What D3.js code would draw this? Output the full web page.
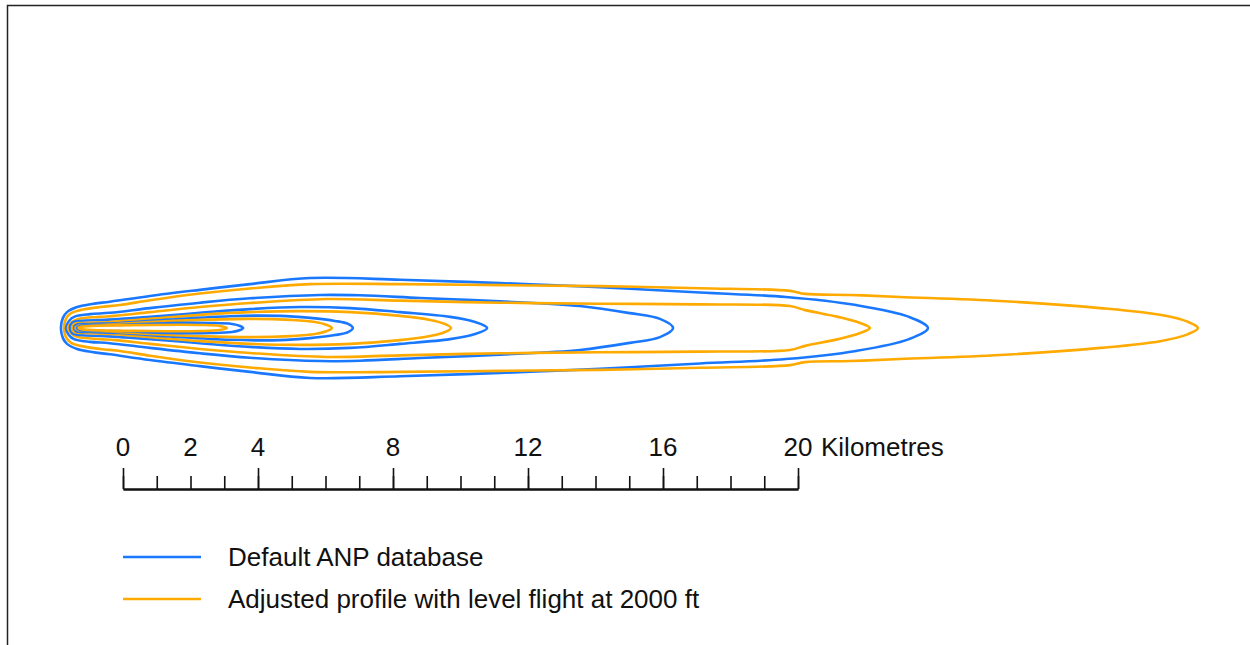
<!DOCTYPE html>
<html>
<head>
<meta charset="utf-8">
<script src="https://cdn.jsdelivr.net/npm/d3@7"></script>
<style>
  body { margin: 0; background: #fff; }
  svg { display: block; font-family: "Liberation Sans", Arial, sans-serif; }
</style>
</head>
<body>
<svg id="chart" width="1250" height="645"></svg>
<script>
// contour upper halves: [distance along track km, half width km], mirrored about the track
const defaultContours = [
  [[-1.84,0],[-1.78,0.30],[-1.66,0.47],[-1.36,0.62],[-0.92,0.71],[-0.39,0.78],[0.80,0.95],[2.28,1.13],[3.76,1.30],[5.54,1.48],[8.21,1.43],[11.17,1.33],[14.13,1.21],[17.10,1.05],[19.64,0.92],[21.72,0.68],[23.29,0.33],[23.85,0]],
  [[-1.69,0],[-1.60,0.21],[-1.45,0.33],[-0.98,0.41],[-0.39,0.45],[0.80,0.59],[2.28,0.75],[3.76,0.88],[5.84,0.98],[7.02,0.97],[8.80,0.89],[11.17,0.79],[13.54,0.65],[15.02,0.44],[15.91,0.27],[16.30,0]],
  [[-1.57,0],[-1.51,0.15],[-1.27,0.21],[-0.53,0.24],[0.80,0.33],[2.28,0.45],[3.76,0.56],[5.24,0.62],[6.73,0.59],[8.21,0.47],[9.69,0.33],[10.43,0.18],[10.79,0]],
  [[-1.45,0],[-1.39,0.09],[-0.98,0.12],[-0.09,0.15],[1.39,0.25],[3.17,0.35],[4.65,0.36],[5.54,0.30],[6.28,0.21],[6.67,0.12],[6.81,0]],
  [[-1.36,0],[-1.27,0.06],[-0.09,0.09],[1.39,0.15],[2.58,0.15],[3.23,0.12],[3.47,0.06],[3.56,0]]
];
const adjustedContours = [
  [[-1.75,0],[-1.69,0.27],[-1.54,0.44],[-1.27,0.53],[-0.68,0.62],[-0.09,0.68],[0.80,0.82],[2.28,1.02],[3.76,1.17],[5.54,1.30],[8.21,1.30],[11.17,1.27],[14.13,1.24],[17.10,1.18],[19.76,1.10],[20.21,1.01],[21.54,0.98],[23.02,0.92],[25.99,0.80],[28.95,0.59],[30.73,0.39],[31.56,0.18],[31.85,0]],
  [[-1.63,0],[-1.51,0.18],[-1.33,0.27],[-0.68,0.33],[-0.24,0.36],[0.80,0.47],[2.28,0.62],[3.76,0.74],[6.04,0.86],[8.21,0.81],[11.17,0.75],[14.13,0.72],[17.10,0.70],[19.76,0.65],[20.21,0.53],[21.19,0.33],[21.84,0.15],[22.13,0]],
  [[-1.51,0],[-1.45,0.12],[-1.13,0.15],[-0.39,0.18],[0.80,0.27],[2.28,0.39],[3.76,0.47],[5.24,0.50],[6.73,0.47],[8.21,0.36],[9.10,0.24],[9.54,0.12],[9.72,0]],
  [[-1.41,0],[-1.33,0.06],[-0.68,0.09],[0.80,0.18],[2.28,0.24],[3.76,0.27],[4.95,0.24],[5.69,0.18],[6.04,0.09],[6.19,0]],
  [[-1.32,0],[-1.21,0.04],[0.80,0.09],[2.28,0.09],[2.87,0.06],[3.08,0]]
];
const seriesNames = ["Default ANP database", "Adjusted profile with level flight at 2000 ft"];
const seriesColors = ["#1a78ff", "#ffaa00"];
const scaleTicks = d3.range(0, 21);
const scaleMajor = [0, 4, 8, 12, 16, 20];
const scaleLabels = [0, 2, 4, 8, 12, 16, 20];
const scaleUnit = "Kilometres";

const svg = d3.select("#chart");

// frame (top and left edge only)
svg.append("path")
  .attr("d", "M7.5,645V5.5H1250")
  .attr("fill", "none")
  .attr("stroke", "#222")
  .attr("stroke-width", 1.5);

const x = d3.scaleLinear().domain([0, 20]).range([123, 798]);
const pxPerKm = x(1) - x(0);
const y = d3.scaleLinear().domain([0, 1]).range([328, 328 - pxPerKm]);

function loop(c) {
  const upper = c.map(d => [d[0], d[1]]);
  const lower = c.slice(1, -1).reverse().map(d => [d[0], -d[1]]);
  return upper.concat(lower);
}

const line = d3.line()
  .x(d => x(d[0]))
  .y(d => y(d[1]))
  .curve(d3.curveCatmullRomClosed.alpha(0.5));

const g = svg.append("g");
for (let i = 0; i < defaultContours.length; i++) {
  g.append("path").attr("d", line(loop(defaultContours[i])))
    .attr("fill", "none").attr("stroke", seriesColors[0]).attr("stroke-width", 2.6);
  g.append("path").attr("d", line(loop(adjustedContours[i])))
    .attr("fill", "none").attr("stroke", seriesColors[1]).attr("stroke-width", 2.6);
}

// scale bar
const bar = svg.append("g").attr("transform", "translate(0,489)");
bar.call(d3.axisTop(x).tickValues(scaleTicks).tickSize(13).tickSizeOuter(0).tickFormat(""));
bar.append("g").call(d3.axisTop(x).tickValues(scaleMajor).tickSize(21).tickSizeOuter(0).tickFormat(""));
bar.selectAll("path.domain").attr("stroke", "#111").attr("stroke-width", 2);
bar.selectAll(".tick line").attr("stroke", "#111").attr("stroke-width", 1.6);

svg.selectAll("text.km")
  .data(scaleLabels)
  .join("text")
  .attr("class", "km")
  .attr("x", d => x(d))
  .attr("y", 456)
  .attr("text-anchor", "middle")
  .attr("font-size", 26)
  .attr("fill", "#111")
  .text(d => d);
svg.append("text")
  .attr("x", x(20) + 23)
  .attr("y", 456)
  .attr("font-size", 26)
  .attr("fill", "#111")
  .text(scaleUnit);

// legend
const legend = svg.selectAll("g.leg")
  .data(seriesNames)
  .join("g")
  .attr("class", "leg")
  .attr("transform", (d, i) => `translate(123,${557 + i * 42})`);
legend.append("line")
  .attr("x1", 0).attr("x2", 78)
  .attr("stroke", (d, i) => seriesColors[i])
  .attr("stroke-width", 2.5);
legend.append("text")
  .attr("x", 105)
  .attr("y", 9)
  .attr("font-size", 26)
  .attr("fill", "#111")
  .text(d => d);
</script>
</body>
</html>
